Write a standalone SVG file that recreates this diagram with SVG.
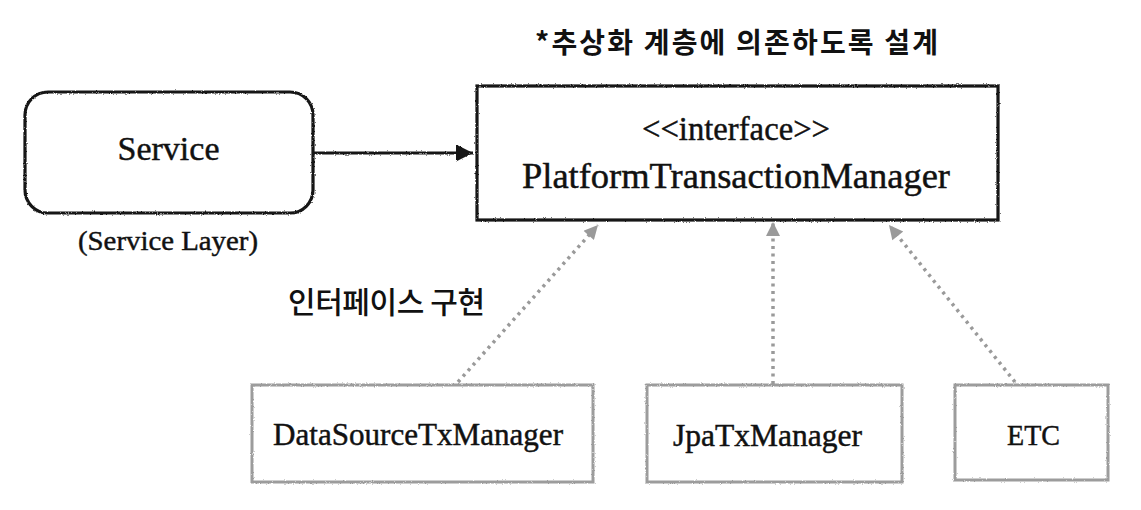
<svg xmlns="http://www.w3.org/2000/svg" width="1141" height="510" viewBox="0 0 1141 510">
  <style>
    .serif { font-family: "Liberation Serif", "Times New Roman", serif; fill: #111; stroke: #111; stroke-width: 0.45; text-anchor: middle; }
    .kr { font-family: "Noto Sans CJK KR", "Noto Sans", sans-serif; fill: #111; text-anchor: middle; font-weight: 500; }
    .title { font-weight: bold; }
    .main { fill: #fff; stroke: #151515; stroke-width: 3.2; }
    .impl { fill: #fff; stroke: #9c9c9c; stroke-width: 3; }
    .dep { fill: none; stroke: #151515; stroke-width: 3; }
    .real { fill: none; stroke: #9a9a9a; stroke-width: 3.5; stroke-dasharray: 3 4.5; }
  </style>
  <defs>
    <filter id="rough" filterUnits="userSpaceOnUse" x="0" y="0" width="1141" height="510">
      <feTurbulence type="fractalNoise" baseFrequency="0.9" numOctaves="2" seed="3" result="n"/>
      <feDisplacementMap in="SourceGraphic" in2="n" scale="2.4" xChannelSelector="R" yChannelSelector="G"/>
    </filter>
    <marker id="arrowBlack" viewBox="0 0 10 10" refX="10" refY="5" markerUnits="userSpaceOnUse" markerWidth="18" markerHeight="17" orient="auto">
      <path d="M0,0 L10,5 L0,10 z" fill="#151515"/>
    </marker>
    <marker id="arrowGray" viewBox="0 0 10 10" refX="10" refY="5" markerUnits="userSpaceOnUse" markerWidth="17" markerHeight="14" orient="auto">
      <path d="M0,0 L10,5 L0,10 z" fill="#9a9a9a"/>
    </marker>
  </defs>

  <rect width="1141" height="510" fill="#fff"/>

  <text class="kr title" x="736.5" y="53" font-size="28" textLength="403" lengthAdjust="spacing">*추상화 계층에 의존하도록 설계</text>

  <g id="service">
    <rect class="main" x="25" y="92" width="288" height="121" rx="23" filter="url(#rough)"/>
    <text class="serif" x="168.5" y="160" font-size="34">Service</text>
  </g>
  <text id="service-layer-label" class="serif" x="168" y="250" font-size="28" textLength="180" lengthAdjust="spacingAndGlyphs">(Service Layer)</text>

  <g id="platform-transaction-manager">
    <rect class="main" x="477" y="86" width="521" height="134" filter="url(#rough)"/>
    <text class="serif" x="736" y="140" font-size="34" textLength="188" lengthAdjust="spacingAndGlyphs">&lt;&lt;interface&gt;&gt;</text>
    <text class="serif" x="736" y="188" font-size="35" textLength="428" lengthAdjust="spacingAndGlyphs">PlatformTransactionManager</text>
  </g>

  <text id="impl-label" class="kr" x="386.5" y="313" font-size="30" textLength="197" lengthAdjust="spacing">인터페이스 구현</text>

  <g id="datasource-tx-manager">
    <rect class="impl" x="252" y="385" width="341" height="97" filter="url(#rough)"/>
    <text class="serif" x="418" y="445" font-size="31" textLength="290" lengthAdjust="spacingAndGlyphs">DataSourceTxManager</text>
  </g>

  <g id="jpa-tx-manager">
    <rect class="impl" x="647" y="385" width="255" height="97" filter="url(#rough)"/>
    <text class="serif" x="767.5" y="446" font-size="31" textLength="189" lengthAdjust="spacingAndGlyphs">JpaTxManager</text>
  </g>

  <g id="etc">
    <rect class="impl" x="955" y="385" width="153" height="95" filter="url(#rough)"/>
    <text class="serif" x="1033.5" y="445" font-size="30" textLength="53" lengthAdjust="spacingAndGlyphs">ETC</text>
  </g>

  <g id="connectors">
    <path class="dep" d="M313,153 L473,153" marker-end="url(#arrowBlack)" filter="url(#rough)"/>
    <path class="real" d="M458,382 L598,225" marker-end="url(#arrowGray)"/>
    <path class="real" d="M773,384 L773,222" marker-end="url(#arrowGray)"/>
    <path class="real" d="M1015,382 L889,225" marker-end="url(#arrowGray)"/>
  </g>
</svg>
